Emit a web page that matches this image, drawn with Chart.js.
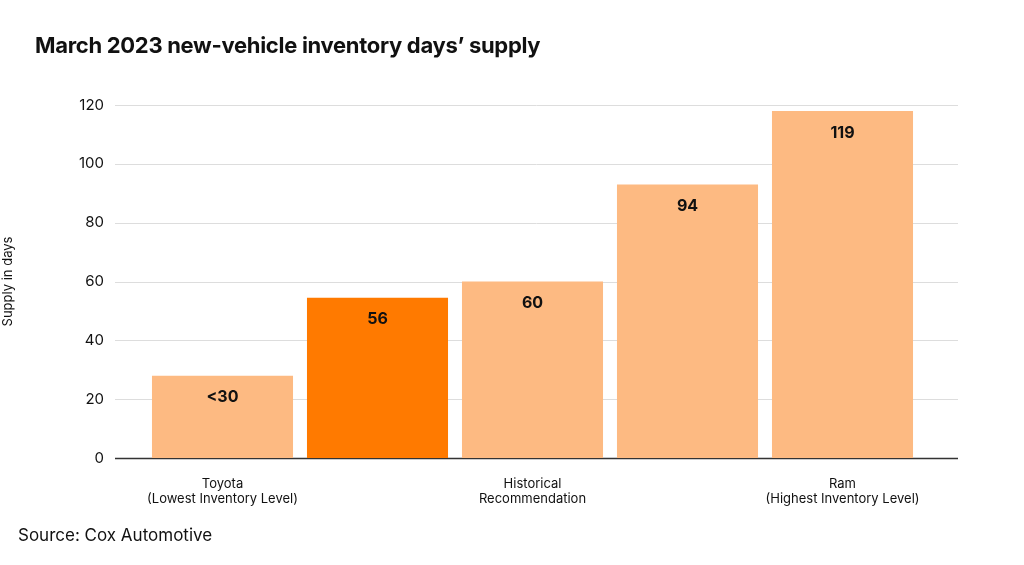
<!DOCTYPE html>
<html>
<head>
<meta charset="utf-8">
<script src="https://cdn.jsdelivr.net/npm/chart.js@4"></script>
<style>
  body { margin: 0; background: #fff; font-family: Inter, "Noto Sans", sans-serif; }
  #wrap { position: relative; width: 1024px; height: 565px; }
  #title { position: absolute; left: 35px; top: 32px; font-size: 22px; font-weight: 700; color: #111; letter-spacing: -0.3px; }
  #source { position: absolute; left: 18px; top: 525px; font-size: 17px; color: #111; }
</style>
</head>
<body>
<div id="wrap">
  <canvas id="chart" width="1024" height="565"></canvas>
  <div id="title">March 2023 new-vehicle inventory days’ supply</div>
  <div id="source">Source: Cox Automotive</div>
</div>
<script>
const categories = [
  ['Toyota', '(Lowest Inventory Level)'],
  'March 2023',
  ['Historical', 'Recommendation'],
  'March 2019',
  ['Ram', '(Highest Inventory Level)']
];
const supplyDays = [28, 54.5, 60, 93, 118];
const valueLabels = ['<30', '56', '60', '94', '119'];
const barColors = ['#FDBA82', '#FF7A00', '#FDBA82', '#FDBA82', '#FDBA82'];

// gridlines stretch wider than the bars
const wideGrid = {
  id: 'wideGrid',
  beforeDatasetsDraw(chart) {
    const { ctx, scales: { y } } = chart;
    ctx.save();
    y.ticks.forEach(t => {
      const py = Math.round(y.getPixelForValue(t.value)) + 0.5;
      ctx.strokeStyle = t.value === 0 ? '#333' : '#ddd';
      ctx.lineWidth = t.value === 0 ? 1.5 : 1;
      ctx.beginPath();
      ctx.moveTo(115, py);
      ctx.lineTo(958, py);
      ctx.stroke();
    });
    ctx.restore();
  }
};

const barLabels = {
  id: 'barLabels',
  afterDatasetsDraw(chart) {
    const { ctx } = chart;
    ctx.save();
    ctx.font = 'bold 16px Inter, "Noto Sans", sans-serif';
    ctx.fillStyle = '#111';
    ctx.textAlign = 'center';
    ctx.textBaseline = 'middle';
    chart.getDatasetMeta(0).data.forEach((bar, i) => {
      ctx.fillText(valueLabels[i], bar.x, bar.y + 22);
    });
    ctx.restore();
  }
};

new Chart(document.getElementById('chart'), {
  type: 'bar',
  data: {
    labels: categories,
    datasets: [{
      data: supplyDays,
      backgroundColor: barColors,
      categoryPercentage: 1,
      barPercentage: 0.91
    }]
  },
  options: {
    responsive: false,
    animation: false,
    layout: { padding: { top: 105, right: 104, left: 0, bottom: 0 } },
    plugins: { legend: { display: false }, tooltip: { enabled: false } },
    scales: {
      x: {
        grid: { display: false },
        border: { display: false },
        ticks: { color: '#111', font: { size: 13, family: 'Inter, "Noto Sans", sans-serif' }, maxRotation: 0, padding: 10 },
        afterFit(scale) { scale.height = 107; }
      },
      y: {
        min: 0,
        max: 120,
        grid: { display: false },
        border: { display: false },
        ticks: { stepSize: 20, color: '#111', padding: 33, font: { size: 15, family: 'Inter, "Noto Sans", sans-serif' } },
        title: { display: true, text: 'Supply in days', color: '#111', font: { size: 13, family: 'Inter, "Noto Sans", sans-serif' }, padding: { top: 0, bottom: 0 } },
        afterFit(scale) { scale.width = 145; }
      }
    }
  },
  plugins: [wideGrid, barLabels]
});
</script>
</body>
</html>
